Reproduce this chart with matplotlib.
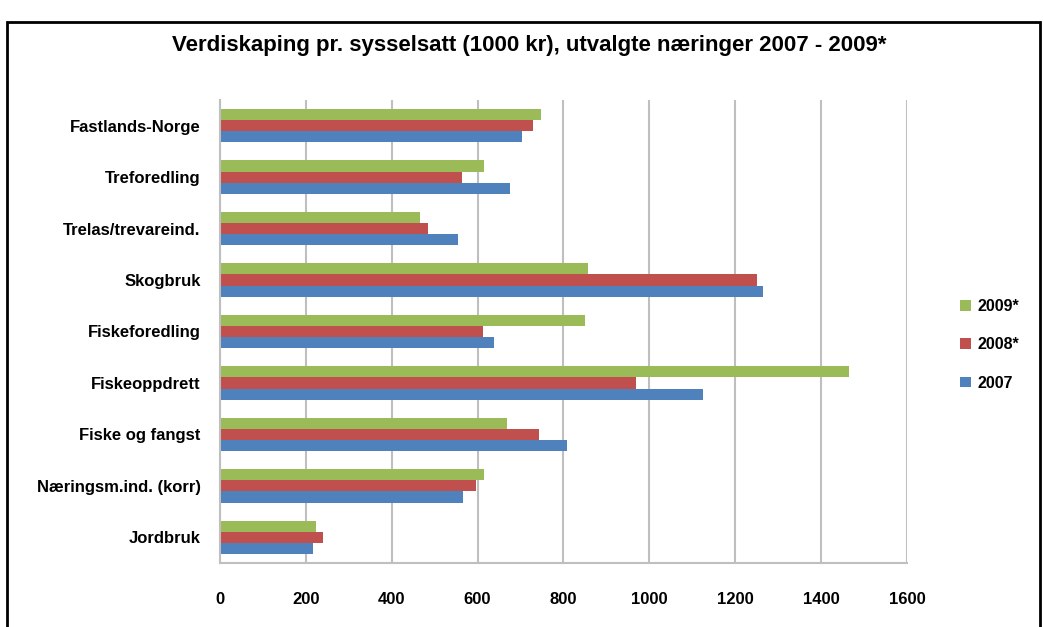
import matplotlib.pyplot as plt
import numpy as np
from matplotlib.patches import Rectangle

plt.rcParams['font.family'] = ['Liberation Sans', 'DejaVu Sans']

naeringer = ["Fastlands-Norge", "Treforedling", "Trelas/trevareind.", "Skogbruk",
             "Fiskeforedling", "Fiskeoppdrett", "Fiske og fangst",
             "Næringsm.ind. (korr)", "Jordbruk"]
v2007 = [703, 676, 555, 1264, 638, 1124, 808, 567, 216]
v2008 = [729, 563, 484, 1250, 612, 970, 744, 596, 239]
v2009 = [748, 616, 465, 857, 850, 1464, 669, 615, 224]

farger = {'2007': '#4F81BD', '2008*': '#C0504D', '2009*': '#9BBB59'}

fig = plt.figure(figsize=(10.43, 6.27), dpi=100)
ax = fig.add_axes([0.2109, 0.1021, 0.6587, 0.7384])

y = np.arange(len(naeringer))
h = 0.217
ax.barh(y + h, v2007, height=h, color=farger['2007'], label='2007')
ax.barh(y, v2008, height=h, color=farger['2008*'], label='2008*')
ax.barh(y - h, v2009, height=h, color=farger['2009*'], label='2009*')

ax.set_xlim(0, 1600)
ax.set_ylim(len(naeringer) - 0.5, -0.5)
ax.set_xticks(range(0, 1601, 200))
ax.set_yticks(y)
ax.set_yticklabels(naeringer)
ax.xaxis.grid(True, color='#BFBFBF', linewidth=1.5)
ax.set_axisbelow(True)
for s in ['top', 'right']:
    ax.spines[s].set_visible(False)
ax.spines['left'].set_color('#BFBFBF')
ax.spines['bottom'].set_color('#BFBFBF')
ax.spines['left'].set_linewidth(1.5)
ax.spines['bottom'].set_linewidth(1.5)
ax.tick_params(axis='x', length=0, pad=21, labelsize=12)
ax.tick_params(axis='y', length=0, pad=14, labelsize=12)
for lbl in ax.get_xticklabels() + ax.get_yticklabels():
    lbl.set_fontweight('bold')

handles, labels = ax.get_legend_handles_labels()
leg = fig.legend(handles[::-1], labels[::-1], loc='center left',
                 bbox_to_anchor=(0.907, 0.45), frameon=False,
                 handlelength=0.65, handleheight=0.65, labelspacing=1.45,
                 handletextpad=0.4, prop={'size': 11.5, 'weight': 'bold'})

fig.text(0.507, 0.928, "Verdiskaping pr. sysselsatt (1000 kr), utvalgte næringer 2007 - 2009*",
         ha='center', va='center', fontsize=16, fontweight='bold')

fig.patches.append(Rectangle((7 / 1043, -0.05), 1033 / 1043, 1 - 22 / 627 + 0.05,
                             transform=fig.transFigure, fill=False,
                             edgecolor='black', linewidth=2))

fig.savefig("out.png", dpi=100)
